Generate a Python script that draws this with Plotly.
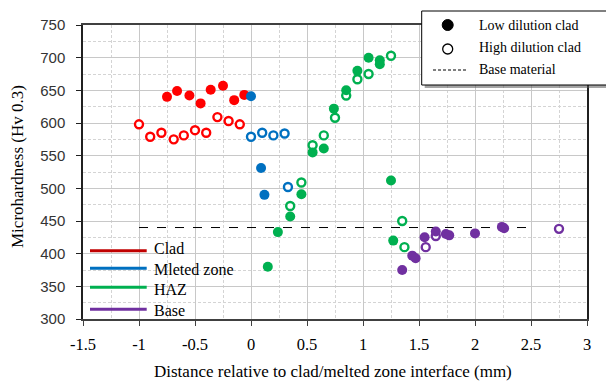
import plotly.graph_objects as go

# ---- data ----
clad_low_x = [-0.75, -0.66, -0.55, -0.45, -0.36, -0.25, -0.15, -0.06]
clad_low_y = [640, 649, 642, 630, 651, 657, 635, 643]
clad_high_x = [-1.0, -0.9, -0.8, -0.69, -0.6, -0.5, -0.4, -0.3, -0.2, -0.1]
clad_high_y = [598, 579, 585, 575, 581, 589, 585, 609, 603, 598]

mz_low_x = [0.0, 0.09, 0.12]
mz_low_y = [641, 531, 490]
mz_high_x = [0.0, 0.1, 0.2, 0.3, 0.33]
mz_high_y = [579, 585, 581, 584, 502]

haz_low_x = [0.15, 0.24, 0.35, 0.45, 0.55, 0.65, 0.74, 0.85, 0.95, 1.05, 1.15, 1.15, 1.25, 1.27]
haz_low_y = [380, 433, 457, 491, 555, 561, 622, 650, 680, 700, 696, 690, 512, 420]
haz_high_x = [0.35, 0.45, 0.55, 0.65, 0.75, 0.85, 0.95, 1.05, 1.25, 1.35, 1.37]
haz_high_y = [473, 509, 566, 581, 608, 642, 667, 675, 703, 450, 410]

base_low_x = [1.35, 1.44, 1.47, 1.55, 1.65, 1.74, 1.77, 2.0, 2.24, 2.26]
base_low_y = [375, 397, 393, 425, 434, 430, 428, 431, 441, 439]
base_high_x = [1.56, 1.65, 2.75]
base_high_y = [410, 427, 438]

base_material_x = [-1.0, 2.5]
base_material_y = [440, 440]

zone_names = ["Clad", "Mleted zone", "HAZ", "Base"]
zone_colors = ["#FF0000", "#0070C0", "#00B050", "#7030A0"]
legend_line_colors = ["#C00000", "#0070C0", "#00B050", "#7030A0"]
point_legend = ["Low dilution clad", "High dilution clad", "Base material"]

x_range = [-1.5, 3]
y_range = [300, 750]
x_ticks = [-1.5, -1, -0.5, 0, 0.5, 1, 1.5, 2, 2.5, 3]
y_ticks = [300, 350, 400, 450, 500, 550, 600, 650, 700, 750]

SERIF = "Liberation Serif, Times New Roman, serif"
SANS = "Liberation Sans, Arial, sans-serif"

# the page places the figure 8px in from the top-left corner
OFF = 8
W, H = 614 - OFF, 381 - OFF
L, R, T, B = 83 - OFF, 27, 25 - OFF, 62
PW, PH = W - L - R, H - T - B


def px(sx):  # screen x -> paper
    return (sx - OFF - L) / PW


def py(sy):  # screen y -> paper
    return (H + OFF - B - sy) / PH


fig = go.Figure()

fig.add_trace(go.Scatter(x=base_material_x, y=base_material_y, mode="lines",
                         line=dict(color="black", width=1, dash="dash"),
                         showlegend=False, hoverinfo="skip"))

groups = [
    (clad_low_x, clad_low_y, clad_high_x, clad_high_y),
    (mz_low_x, mz_low_y, mz_high_x, mz_high_y),
    (haz_low_x, haz_low_y, haz_high_x, haz_high_y),
    (base_low_x, base_low_y, base_high_x, base_high_y),
]
for (lx, ly, hx, hy), name, col in zip(groups, zone_names, zone_colors):
    fig.add_trace(go.Scatter(x=hx, y=hy, mode="markers", name=name,
                             marker=dict(symbol="circle", size=8, color="white",
                                         line=dict(color=col, width=2.4)),
                             showlegend=False))
    fig.add_trace(go.Scatter(x=lx, y=ly, mode="markers", name=name,
                             marker=dict(symbol="circle", size=10, color=col,
                                         line=dict(width=0)),
                             showlegend=False))

shapes = []
annotations = []

# point-style legend box (top right)
bx0, bx1, by0, by1 = 421.7, 612.7, 11, 85
shapes.append(dict(type="rect", xref="paper", yref="paper", layer="above",
                   x0=px(bx0 + 3), x1=px(bx1 + 3), y0=py(by1 + 3), y1=py(by0 + 3),
                   fillcolor="rgba(90,90,90,0.55)", line=dict(width=0)))
shapes.append(dict(type="rect", xref="paper", yref="paper", layer="above",
                   x0=px(bx0), x1=px(bx1), y0=py(by1), y1=py(by0),
                   fillcolor="white", line=dict(color="black", width=1)))
r = 5.5
shapes.append(dict(type="circle", xref="paper", yref="paper", layer="above",
                   x0=px(447.7 - r), x1=px(447.7 + r), y0=py(25 + r), y1=py(25 - r),
                   fillcolor="black", line=dict(color="black", width=1)))
r = 5
shapes.append(dict(type="circle", xref="paper", yref="paper", layer="above",
                   x0=px(447.7 - r), x1=px(447.7 + r), y0=py(49 + r), y1=py(49 - r),
                   fillcolor="white", line=dict(color="black", width=1.3)))
shapes.append(dict(type="line", xref="paper", yref="paper", layer="above",
                   x0=px(433), x1=px(468), y0=py(70), y1=py(70),
                   line=dict(color="black", width=1, dash="3px,2px")))
for txt, yy in zip(point_legend, [25, 48, 70]):
    annotations.append(dict(text=txt, xref="paper", yref="paper", x=px(476.5), y=py(yy),
                            xanchor="left", yanchor="middle", showarrow=False,
                            font=dict(family=SERIF, size=14, color="black")))

# zone line legend (bottom left)
for name, col, yl, yt in zip(zone_names, legend_line_colors,
                             [250.7, 268.3, 287.3, 309.3], [248.5, 269, 289, 310]):
    shapes.append(dict(type="line", xref="paper", yref="paper", layer="above",
                       x0=px(90), x1=px(146.7), y0=py(yl), y1=py(yl),
                       line=dict(color=col, width=3)))
    annotations.append(dict(text=name, xref="paper", yref="paper", x=px(152), y=py(yt),
                            xanchor="left", yanchor="middle", showarrow=False,
                            font=dict(family=SERIF, size=16, color="black")))

# axis titles
annotations.append(dict(text="Distance relative to clad/melted zone interface (mm)",
                        xref="paper", yref="paper", x=px(333), y=py(371.5),
                        xanchor="center", yanchor="middle", showarrow=False,
                        font=dict(family=SERIF, size=17, color="black")))
annotations.append(dict(text="Microhardness (Hv 0.3)", textangle=-90,
                        xref="paper", yref="paper", x=px(17.5), y=py(166.5),
                        xanchor="center", yanchor="middle", showarrow=False,
                        font=dict(family=SERIF, size=17, color="black")))

fig.update_layout(
    width=W, height=H,
    margin=dict(l=L, r=R, t=T, b=B, pad=0),
    paper_bgcolor="white", plot_bgcolor="white",
    showlegend=False,
    shapes=shapes, annotations=annotations,
    xaxis=dict(range=x_range, tickvals=x_ticks,
               ticktext=[f"{v:g}" for v in x_ticks],
               showline=True, linecolor="#404040", linewidth=1.5, mirror=True,
               ticks="outside", ticklen=5, tickcolor="#404040", tickwidth=1.2,
               showgrid=True, gridcolor="#c8c8c8", gridwidth=1,
               minor=dict(dtick=0.25, showgrid=True, gridcolor="#d4d4d4",
                          griddash="3px,2px", gridwidth=1),
               zeroline=False, automargin=False,
               tickfont=dict(family=SERIF, size=16.5, color="black"),
               ticklabelstandoff=4),
    yaxis=dict(range=y_range, tickvals=y_ticks,
               showline=True, linecolor="#202020", linewidth=1.5, mirror=True,
               ticks="outside", ticklen=5, tickcolor="#202020", tickwidth=1.2,
               showgrid=True, gridcolor="#c8c8c8", gridwidth=1,
               minor=dict(dtick=25, showgrid=True, gridcolor="#d4d4d4",
                          griddash="3px,2px", gridwidth=1),
               zeroline=False, automargin=False,
               tickfont=dict(family=SANS, size=15, color="#333333"),
               ticklabelstandoff=8),
)

fig.write_html("out.html")
